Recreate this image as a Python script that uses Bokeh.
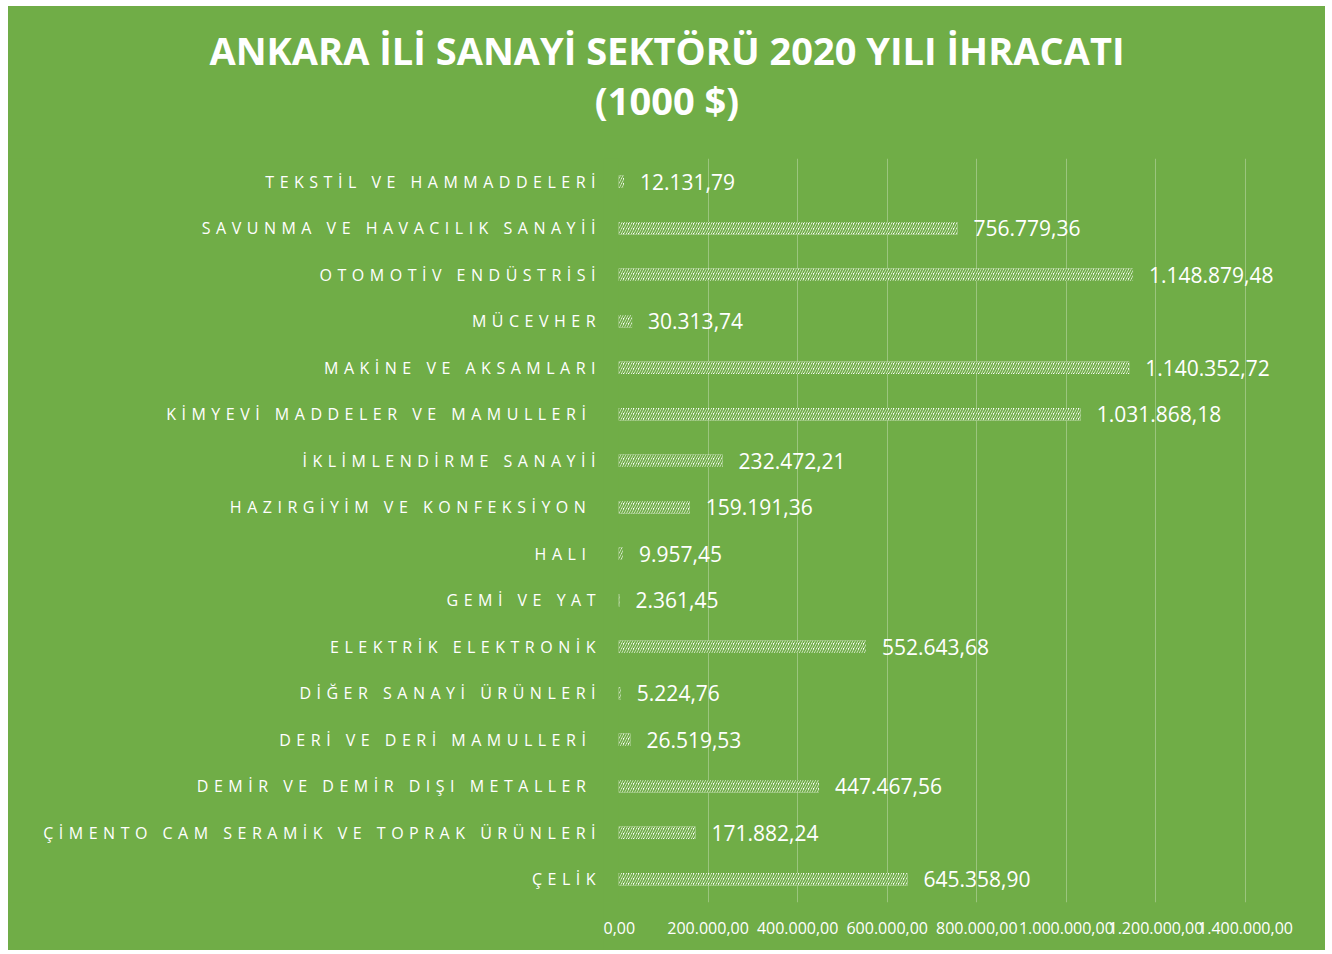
from bokeh.plotting import figure
from bokeh.models import FactorRange, Range1d, FixedTicker, Title, InlineStyleSheet
from bokeh.layouts import column, row
from bokeh.core.properties import value
from bokeh.embed import file_html
from bokeh.resources import INLINE

GREEN = "#70AD47"

title_line1 = "ANKARA İLİ SANAYİ SEKTÖRÜ 2020 YILI İHRACATI"
title_line2 = "(1000 $)"

categories = [
    "TEKSTİL VE HAMMADDELERİ",
    "SAVUNMA VE HAVACILIK SANAYİİ",
    "OTOMOTİV ENDÜSTRİSİ",
    "MÜCEVHER",
    "MAKİNE VE AKSAMLARI",
    "KİMYEVİ MADDELER VE MAMULLERİ ",
    "İKLİMLENDİRME SANAYİİ",
    "HAZIRGİYİM VE KONFEKSİYON ",
    "HALI ",
    "GEMİ VE YAT",
    "ELEKTRİK ELEKTRONİK",
    "DİĞER SANAYİ ÜRÜNLERİ",
    "DERİ VE DERİ MAMULLERİ ",
    "DEMİR VE DEMİR DIŞI METALLER ",
    "ÇİMENTO CAM SERAMİK VE TOPRAK ÜRÜNLERİ",
    "ÇELİK",
]
values = [
    12131.79, 756779.36, 1148879.48, 30313.74, 1140352.72, 1031868.18,
    232472.21, 159191.36, 9957.45, 2361.45, 552643.68, 5224.76,
    26519.53, 447467.56, 171882.24, 645358.90,
]
tick_values = [0, 200000, 400000, 600000, 800000, 1000000, 1200000, 1400000]
tick_labels = ["0,00", "200.000,00", "400.000,00", "600.000,00", "800.000,00",
               "1.000.000,00", "1.200.000,00", "1.400.000,00"]


def tr_fmt(v):
    s = f"{v:,.2f}"
    return s.replace(",", "#").replace(".", ",").replace("#", ".")


value_labels = [tr_fmt(v) for v in values]

TOTAL_W = 1317
TITLE_H = 152
BODY_H = 792
LABEL_W = 595
AXIS_PAD_LEFT = 15
AXIS_PX = 627          # pixel length of the value axis (0 .. last tick)
LS = 5.5               # letter spacing of category labels (px)

host_css = ":host { background-color: %s; }" % GREEN


def base_fig(**kw):
    f = figure(output_backend="svg", toolbar_location=None, **kw)
    f.background_fill_color = GREEN
    f.border_fill_color = GREEN
    f.outline_line_color = None
    f.stylesheets = [InlineStyleSheet(css=host_css)]
    return f


# ---- title figure ----
pt = base_fig(width=TOTAL_W, height=TITLE_H, x_range=Range1d(0, 1), y_range=Range1d(0, 1),
              min_border_left=0, min_border_right=0, min_border_top=129, min_border_bottom=0)
pt.add_layout(Title(text=title_line2, align="center", text_color="white",
                    text_font="Open Sans", text_font_style="bold",
                    text_font_size="38px", standoff=20), "above")
pt.add_layout(Title(text=title_line1, align="center", text_color="white",
                    text_font="Open Sans", text_font_style="bold",
                    text_font_size="38px", standoff=-28), "above")
pt.xaxis.visible = False
pt.yaxis.visible = False
pt.grid.grid_line_color = None

yr = FactorRange(factors=categories[::-1])

# ---- category label figure ----
pl = base_fig(width=LABEL_W, height=BODY_H, x_range=Range1d(0, 1), y_range=yr,
              min_border_left=0, min_border_right=0, min_border_top=0, min_border_bottom=48)
pl.stylesheets = [InlineStyleSheet(css=":host { background-color: %s; letter-spacing: %spx; }"
                                   % (GREEN, LS))]
label_offsets = [-8 - (len(c) - 1) * LS for c in categories]
pl.text(x=1, y=categories, text=categories, x_offset=label_offsets,
        text_align="right", text_baseline="middle", text_color="white",
        text_font=value("Open Sans"), text_font_size="16px")
pl.xaxis.visible = False
pl.yaxis.visible = False
pl.grid.grid_line_color = None

# ---- main chart ----
main_w = TOTAL_W - LABEL_W
frame_px = main_w - AXIS_PAD_LEFT
x_end = tick_values[-1] * frame_px / AXIS_PX
p = base_fig(width=main_w, height=BODY_H,
             x_range=Range1d(tick_values[0], x_end), y_range=yr,
             min_border_left=AXIS_PAD_LEFT, min_border_right=0, min_border_top=0,
             min_border_bottom=48)

p.hbar(y=categories, left=0, right=values, height=0.27,
       fill_color="white", line_color=None,
       hatch_pattern="/", hatch_color=GREEN, hatch_scale=5, hatch_weight=1.7)

p.text(x=values, y=categories, text=value_labels, x_offset=16,
       text_align="left", text_baseline="middle", text_color="white",
       text_font=value("Open Sans"), text_font_size="21px")

p.yaxis.visible = False
p.ygrid.grid_line_color = None

p.xaxis.ticker = FixedTicker(ticks=tick_values)
p.xaxis.major_label_overrides = dict(zip(tick_values, tick_labels))
p.xaxis.axis_line_color = None
p.xaxis.major_tick_line_color = None
p.xaxis.minor_tick_line_color = None
p.xaxis.major_label_text_color = "white"
p.xaxis.major_label_text_font = "Open Sans"
p.xaxis.major_label_text_font_size = "16px"
p.xaxis.major_label_standoff = 13

p.xgrid.grid_line_color = "white"
p.xgrid.grid_line_alpha = 0.3
p.xgrid.grid_line_width = 1

layout = column(pt, row(pl, p, spacing=0), spacing=0)
layout.margin = (6, 0, 0, 8)

open("out.html", "w").write(file_html(layout, INLINE))
